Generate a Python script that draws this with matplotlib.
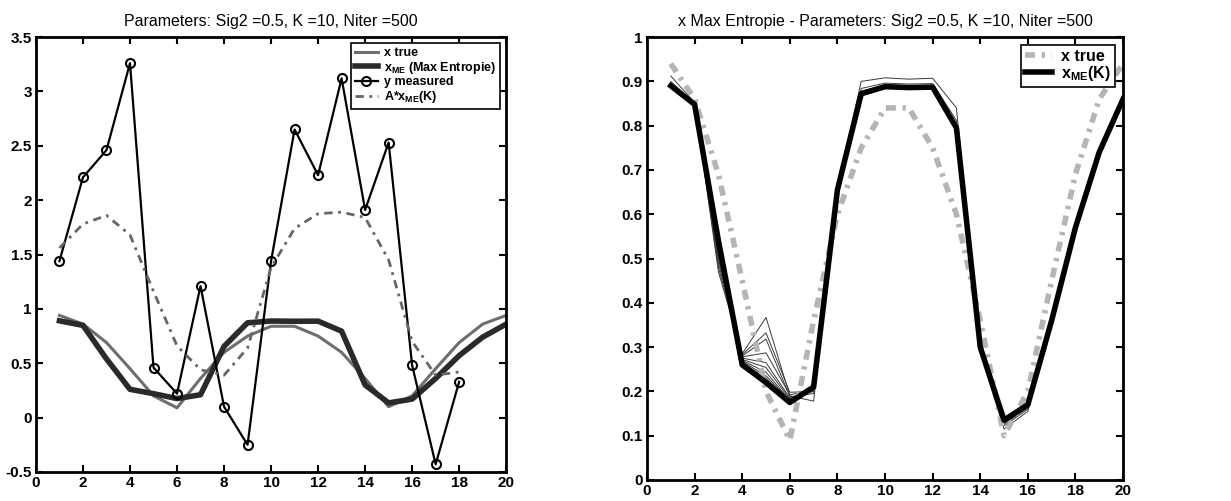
import matplotlib
matplotlib.use("Agg")
import matplotlib.pyplot as plt
import numpy as np

plt.rcParams['font.family'] = ['Liberation Sans', 'DejaVu Sans']
plt.rcParams['mathtext.fontset'] = 'custom'
plt.rcParams['mathtext.rm'] = 'Liberation Sans:bold'
plt.rcParams['mathtext.it'] = 'Liberation Sans:bold'
plt.rcParams['mathtext.bf'] = 'Liberation Sans:bold'

# donnees
n = np.arange(1, 21)
n_meas = np.arange(1, 19)

x_true = [0.94, 0.86, 0.69, 0.45, 0.2, 0.09, 0.36, 0.6, 0.75, 0.84,
          0.84, 0.75, 0.6, 0.36, 0.1, 0.2, 0.45, 0.69, 0.86, 0.94]
x_me = [0.89, 0.848, 0.54, 0.26, 0.22, 0.175, 0.21, 0.655, 0.872, 0.888,
        0.886, 0.887, 0.795, 0.30, 0.135, 0.17, 0.36, 0.57, 0.74, 0.86]
y_meas = [1.44, 2.21, 2.46, 3.26, 0.46, 0.22, 1.21, 0.1, -0.25, 1.44,
          2.65, 2.23, 3.12, 1.91, 2.53, 0.48, -0.43, 0.33]
ax_me = [1.56, 1.78, 1.86, 1.68, 1.16, 0.66, 0.44, 0.39, 0.64, 1.38,
         1.74, 1.875, 1.89, 1.84, 1.45, 0.7, 0.39, 0.42]

# iterations intermediaires (k = 1..9)
x_iter = [
    [0.912, 0.852, 0.47, 0.285, 0.367, 0.19, 0.178, 0.66, 0.9, 0.908, 0.905, 0.907, 0.84, 0.29, 0.115, 0.155, 0.35, 0.56, 0.73, 0.855],
    [0.9, 0.85, 0.48, 0.283, 0.332, 0.198, 0.2, 0.66, 0.884, 0.896, 0.894, 0.895, 0.812, 0.294, 0.122, 0.16, 0.354, 0.564, 0.734, 0.857],
    [0.895, 0.849, 0.49, 0.28, 0.318, 0.188, 0.195, 0.657, 0.878, 0.892, 0.89, 0.891, 0.803, 0.296, 0.126, 0.163, 0.356, 0.566, 0.736, 0.858],
    [0.893, 0.849, 0.5, 0.278, 0.287, 0.192, 0.205, 0.656, 0.876, 0.891, 0.889, 0.89, 0.8, 0.297, 0.128, 0.165, 0.357, 0.567, 0.737, 0.858],
    [0.892, 0.849, 0.5, 0.275, 0.265, 0.185, 0.2, 0.656, 0.875, 0.89, 0.888, 0.889, 0.798, 0.298, 0.13, 0.166, 0.358, 0.568, 0.738, 0.859],
    [0.891, 0.849, 0.51, 0.272, 0.254, 0.183, 0.205, 0.655, 0.874, 0.889, 0.887, 0.888, 0.797, 0.299, 0.131, 0.167, 0.359, 0.569, 0.739, 0.859],
    [0.891, 0.848, 0.52, 0.27, 0.243, 0.18, 0.208, 0.655, 0.873, 0.889, 0.887, 0.888, 0.796, 0.299, 0.132, 0.168, 0.359, 0.569, 0.739, 0.86],
    [0.89, 0.848, 0.52, 0.268, 0.235, 0.18, 0.21, 0.655, 0.873, 0.888, 0.886, 0.887, 0.796, 0.3, 0.133, 0.169, 0.36, 0.57, 0.74, 0.86],
    [0.89, 0.848, 0.53, 0.265, 0.23, 0.178, 0.21, 0.655, 0.872, 0.888, 0.886, 0.887, 0.795, 0.3, 0.134, 0.169, 0.36, 0.57, 0.74, 0.86],
]

left_yticks = [-0.5, 0, 0.5, 1, 1.5, 2, 2.5, 3, 3.5]
left_ylabels = ['-0.5', '0', '0.5', '1', '1.5', '2', '2.5', '3', '3.5']
right_yticks = [0, 0.1, 0.2, 0.3, 0.4, 0.5, 0.6, 0.7, 0.8, 0.9, 1]
right_ylabels = ['0', '0.1', '0.2', '0.3', '0.4', '0.5', '0.6', '0.7', '0.8', '0.9', '1']
xticks = list(range(0, 21, 2))

title_l = "Parameters: Sig2 =0.5, K =10, Niter =500"
title_r = "x Max Entropie - Parameters: Sig2 =0.5, K =10, Niter =500"


def style_axes(ax, yticks, ylabels):
    ax.set_xlim(0, 20)
    ax.set_xticks(xticks)
    ax.set_xticklabels([str(t) for t in xticks], fontweight='bold', fontsize=11)
    ax.set_yticks(yticks)
    ax.set_yticklabels(ylabels, fontweight='bold', fontsize=11)
    ax.set_ylim(yticks[0], yticks[-1])
    ax.tick_params(direction='in', top=True, right=True, length=5, width=1.5, pad=3)
    for s in ax.spines.values():
        s.set_linewidth(2)


fig = plt.figure(figsize=(12.31, 5.01), dpi=100)

ax1 = fig.add_axes([0.0292, 0.058, 0.382, 0.868])
ax1.plot(n, x_true, color='#6e6e6e', lw=2.2, label='x true')
ax1.plot(n, x_me, color='#2a2a2a', lw=4, label=r'x$_{ME}$ (Max Entropie)')
ax1.plot(n_meas, y_meas, color='black', lw=1.6, marker='o', ms=6.5, mfc='none',
         mew=1.5, label='y measured')
ax1.plot(n_meas, ax_me, color='#666666', lw=2, dashes=(3, 2, 1, 2), label=r'A*x$_{ME}$(K)')
style_axes(ax1, left_yticks, left_ylabels)
ax1.set_title(title_l, fontsize=11.5, pad=8)
leg1 = ax1.legend(loc='upper right', prop={'weight': 'bold', 'size': 9},
                  handlelength=1.8, labelspacing=0.05, borderpad=0.3,
                  handletextpad=0.5, fancybox=False, framealpha=1, edgecolor='black')
leg1.get_frame().set_linewidth(1.2)

ax2 = fig.add_axes([0.5256, 0.042, 0.3867, 0.884])
for row in x_iter:
    ax2.plot(n, row, color='#3a3a3a', lw=0.7)
ax2.plot(n, x_true, color='#b5b5b5', lw=4, dashes=(1.8, 1.2, 0.6, 1.2), label='x true')
ax2.plot(n, x_me, color='black', lw=4, label=r'x$_{ME}$(K)')
style_axes(ax2, right_yticks, right_ylabels)
ax2.set_title(title_r, fontsize=11.5, pad=8)
leg2 = ax2.legend(loc='upper right', prop={'weight': 'bold', 'size': 11.5},
                  handlelength=1.7, labelspacing=0.0, borderpad=0.25,
                  handletextpad=0.6, fancybox=False, framealpha=1, edgecolor='black')
leg2.get_frame().set_linewidth(1.2)

fig.savefig("out.png", dpi=100)
